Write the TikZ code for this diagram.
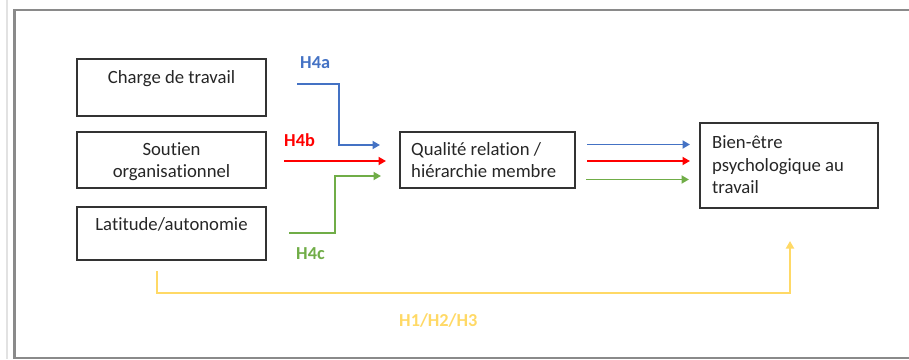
\documentclass[tikz,border=0pt]{standalone}
\usepackage{fontspec}
\setmainfont{Carlito}[Ligatures={NoCommon}]
\usetikzlibrary{arrows.meta}
\definecolor{cblue}{HTML}{4472C4}
\definecolor{cred}{HTML}{FF0000}
\definecolor{cgreen}{HTML}{70AD47}
\definecolor{cyellow}{HTML}{FFD966}
\definecolor{cframe}{HTML}{8A8A8A}
\definecolor{cfaint}{HTML}{E2E2E2}
\definecolor{cbox}{HTML}{333333}
\begin{document}
\begin{tikzpicture}[x=1pt,y=-1pt,
  box/.style={draw=cbox, line width=1.3pt, inner sep=0pt},
  txt/.style={font=\fontsize{18.7}{22.5}\selectfont, inner sep=0pt, text=black!85},
  lab/.style={font=\fontsize{18.3}{22}\selectfont\bfseries, inner sep=0pt},
  conn/.style={line width=1.9pt, -{Triangle[length=7.5pt,width=8pt]}},
]
\useasboundingbox (0,0) rectangle (909,359);
% frame
\draw[cfaint, line width=2pt] (7,0) -- (7,359);
\draw[cframe, line width=2.5pt] (920,10) -- (14.5,10) -- (14.5,358) -- (920,358);

% boxes
\node[box, minimum width=189pt, minimum height=57pt] (b1) at (171.5,87.5) {};
\node[box, minimum width=189pt, minimum height=56pt] (b2) at (171.5,160) {};
\node[box, minimum width=189pt, minimum height=53pt] (b3) at (171.5,233.5) {};
\node[box, minimum width=175pt, minimum height=56pt] (b4) at (487.5,160) {};
\node[box, minimum width=178pt, minimum height=85pt] (b5) at (789,165.5) {};

% texts
\node[txt, anchor=base] (t1) at (171.5,83) {Charge de travail};
\node[txt, anchor=base] (t2a) at (171.5,155.7) {Soutien};
\node[txt, anchor=base] (t2b) at (171.5,177.7) {organisationnel};
\node[txt, anchor=base] (t3) at (171.5,230.7) {Latitude/autonomie};
\node[txt, anchor=base west] (t4a) at (411,155.7) {Qualité relation /};
\node[txt, anchor=base west] (t4b) at (411,177.7) {hiérarchie membre};
\node[txt, anchor=base west] (t5a) at (712,148.3) {Bien-être};
\node[txt, anchor=base west] (t5b) at (712,171) {psychologique au};
\node[txt, anchor=base west] (t5c) at (712,193.5) {travail};

% labels
\node[lab, text=cblue, anchor=base west] (la) at (300,68) {H4a};
\node[lab, text=cred, anchor=base west] (lb) at (284,146.7) {H4b};
\node[lab, text=cgreen, anchor=base west] (lc) at (296,259.3) {H4c};
\node[lab, text=cyellow, anchor=base west] (ly) at (399,326) {H1/H2/H3};

% coordinates for free ends
\coordinate (as) at (297,84);
\coordinate (ae) at (380,145);
\coordinate (bs) at (284,161);
\coordinate (be) at (386,161);
\coordinate (cs) at (289,233);
\coordinate (ce) at (381,176);
\coordinate (ra1) at (587,144.5);
\coordinate (ra2) at (690,144.5);
\coordinate (rb1) at (587,161);
\coordinate (rb2) at (690,161);
\coordinate (rc1) at (586,179.5);
\coordinate (rc2) at (689,179.5);
\coordinate (ys) at (157,271);
\coordinate (ye) at (790,241);

% connectors
\draw[conn, cblue] (as) -- (339,84) |- (ae);
\draw[conn, cred] (bs) -- (be);
\draw[conn, cgreen] (cs) -- (335,233) |- (ce);
\draw[conn, cblue] (ra1) -- (ra2);
\draw[conn, cred] (rb1) -- (rb2);
\draw[conn, cgreen] (rc1) -- (rc2);
\draw[conn, cyellow] (ys) |- (790,293) -- (ye);
\end{tikzpicture}
\end{document}
